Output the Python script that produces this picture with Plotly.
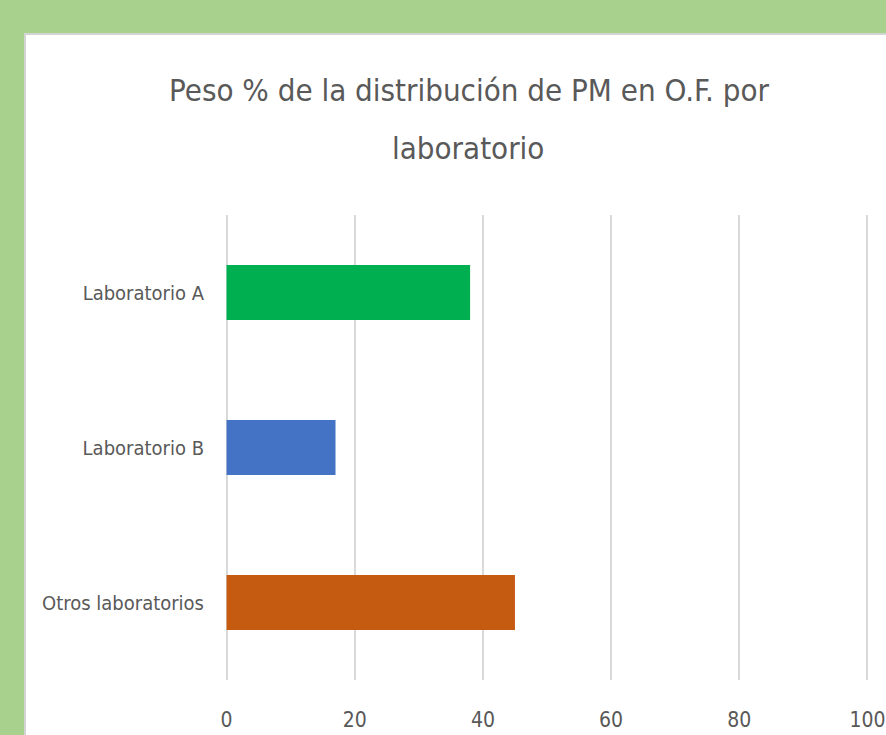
import plotly.graph_objects as go

categories = ["Laboratorio A", "Laboratorio B", "Otros laboratorios"]
values = [38, 17, 45]
bar_colors = ["#00b050", "#4472c4", "#c55a11"]
x_ticks = [0, 20, 40, 60, 80, 100]
title_lines = ["Peso % de la distribución de PM en O.F. por", "laboratorio"]

FONT = "Liberation Sans Narrow, Arial Narrow, DejaVu Sans Condensed, Roboto Condensed, sans-serif"
GRAY = "#595959"

fig = go.Figure(go.Bar(
    y=categories, x=values, orientation="h",
    marker=dict(color=bar_colors, line=dict(width=0)),
    width=0.355,
))

W, H = 886, 735
XMIN, XMAX = -0.4, 100.4
PXU = 6.4
L = round(227 + XMIN * PXU)
R = round(W - (867 + (XMAX - 100) * PXU))
T, B = 215, 55
pw, ph = W - L - R, H - T - B

def px_x(p):
    return (p - L) / pw

def px_y(p):
    return (H - B - p) / ph

fig.update_layout(
    width=W, height=H,
    margin=dict(l=L, r=R, t=T, b=B, pad=0, autoexpand=False),
    paper_bgcolor="#a9d18e",
    plot_bgcolor="rgba(0,0,0,0)",
    showlegend=False,
    font=dict(family=FONT, color=GRAY),
    xaxis=dict(
        range=[XMIN, XMAX], tickvals=x_ticks, ticktext=[str(v) for v in x_ticks],
        showgrid=True, gridcolor="#d9d9d9", gridwidth=2, zeroline=False,
        showline=False, ticks="", tickfont=dict(size=21, color=GRAY, family=FONT),
        ticklabelstandoff=25, automargin=False, fixedrange=True,
        ticklabeloverflow="allow",
    ),
    yaxis=dict(
        categoryorder="array", categoryarray=categories, autorange="reversed",
        showgrid=False, zeroline=False, showline=False, ticks="",
        tickfont=dict(size=20, color=GRAY, family=FONT), ticklabelstandoff=19,
        automargin=False, fixedrange=True,
    ),
    shapes=[
        dict(type="rect", xref="paper", yref="paper", layer="below",
             x0=px_x(25), x1=px_x(W + 5), y0=px_y(H + 5), y1=px_y(34),
             fillcolor="#ffffff", line=dict(color="#d4d4d4", width=2)),
    ],
    annotations=[
        dict(text=title_lines[0], xref="paper", yref="paper", x=px_x(469), y=px_y(90),
             xanchor="center", yanchor="middle", showarrow=False,
             font=dict(size=31, color=GRAY, family=FONT)),
        dict(text=title_lines[1], xref="paper", yref="paper", x=px_x(468), y=px_y(148),
             xanchor="center", yanchor="middle", showarrow=False,
             font=dict(size=31, color=GRAY, family=FONT)),
    ],
)

fig.write_html(
    "out.html",
    config={"displayModeBar": False},
    post_script="document.body.style.margin='0';document.body.style.padding='0';document.body.style.overflow='hidden';",
)
